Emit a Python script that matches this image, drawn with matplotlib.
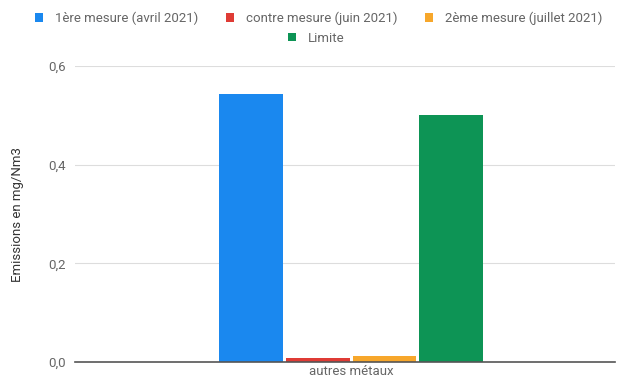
import numpy as np
import matplotlib.pyplot as plt
from matplotlib.patches import Patch

plt.rcParams['font.family'] = ['Roboto', 'DejaVu Sans']

# Données
categorie = ['autres métaux']
series = ['1ère mesure (avril 2021)', 'contre mesure (juin 2021)',
          '2ème mesure (juillet 2021)', 'Limite']
valeurs = [0.543, 0.008, 0.012, 0.5]
couleurs = ['#1a88ef', '#df3b35', '#f7a72b', '#0d9455']
yticks = [0.0, 0.2, 0.4, 0.6]
ytick_labels = ['0,0', '0,2', '0,4', '0,6']

fig = plt.figure(figsize=(6.27, 3.82), dpi=100)
ax = fig.add_axes([0.12, 0.052, 0.861, 0.775])

largeur = 0.118
pas = 0.1235
x = np.arange(len(categorie))
for i, (v, c) in enumerate(zip(valeurs, couleurs)):
    ax.bar(x + (i - 1.5) * pas, [v], width=largeur, color=c, zorder=3)

ax.set_xlim(-0.511, 0.489)
ax.set_ylim(0, 0.6)
ax.set_yticks(yticks)
ax.set_yticklabels(ytick_labels)
ax.set_xticks(x)
ax.set_xticklabels(categorie)
ax.tick_params(axis='both', length=0, labelsize=9.5, colors='#666666')
ax.tick_params(axis='y', pad=7)
ax.tick_params(axis='x', pad=2)
ax.grid(axis='y', color='#dddddd', linewidth=0.8, zorder=0)
for s in ['top', 'right', 'left']:
    ax.spines[s].set_visible(False)
ax.spines['bottom'].set_color('#555555')
ax.spines['bottom'].set_linewidth(1.2)
ax.spines['bottom'].set_zorder(4)
ax.set_ylabel('Emissions en mg/Nm3', fontsize=9.5, color='#333333', labelpad=17)

handles = [Patch(facecolor=c) for c in couleurs]
leg1 = fig.legend(handles[:3], series[:3], loc='center', bbox_to_anchor=(0.508, 0.952),
                  ncol=3, frameon=False, fontsize=9.5, handlelength=0.6, handleheight=0.6,
                  handletextpad=0.9, columnspacing=2.1, labelcolor='#666666')
leg2 = fig.legend(handles[3:], series[3:], loc='center', bbox_to_anchor=(0.505, 0.9),
                  ncol=1, frameon=False, fontsize=9.5, handlelength=0.6, handleheight=0.6,
                  handletextpad=0.9, labelcolor='#666666')

fig.savefig('out.png', dpi=100)
